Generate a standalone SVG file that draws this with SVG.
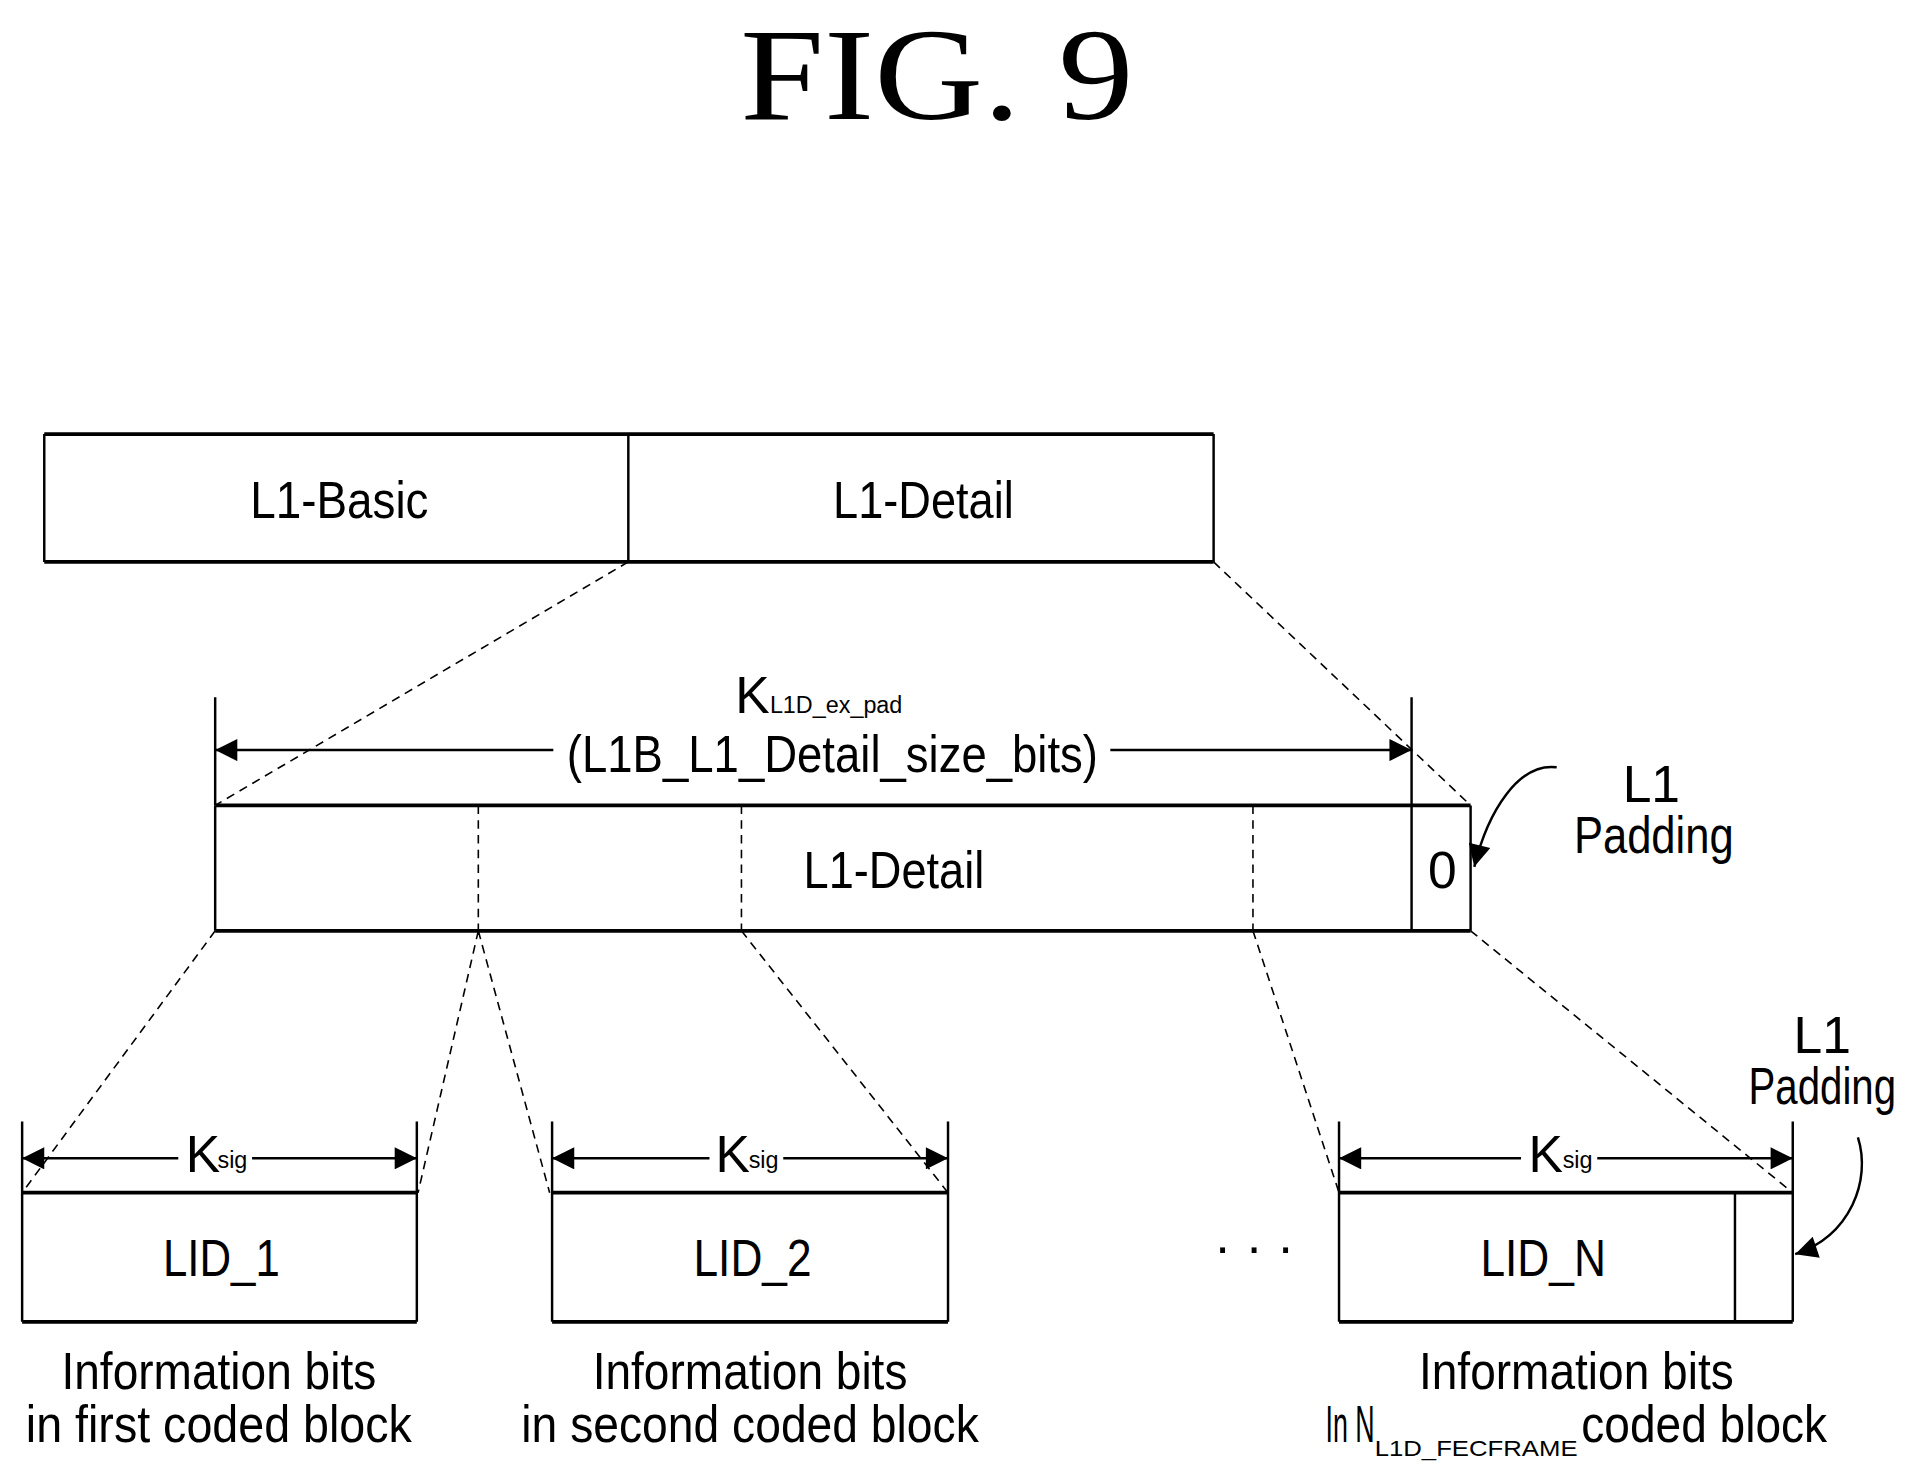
<svg xmlns="http://www.w3.org/2000/svg" width="1928" height="1482" viewBox="0 0 1928 1482">
<style>
.t{font-family:"Liberation Sans",Arial,sans-serif;font-size:42px;text-anchor:middle;fill:#000}
.s{font-size:19px}
.b{fill:none;stroke:#000;stroke-width:2}
.thick{stroke:#000;stroke-width:3}
.d{fill:none;stroke:#000;stroke-width:1.3;stroke-dasharray:7,5}
.ln{fill:none;stroke:#000;stroke-width:2}
</style>
<defs>
<marker id="ah" viewBox="0 0 10 10" refX="10" refY="5" markerWidth="30" markerHeight="18" markerUnits="userSpaceOnUse" orient="auto"><path d="M0,0L10,5L0,10z" fill="#000"/></marker>
</defs>
<rect width="1928" height="1482" fill="#fff"/>
<g transform="scale(1.2296)">
<text x="762" y="97" font-family="Liberation Serif,serif" font-size="106" text-anchor="middle" textLength="320" lengthAdjust="spacingAndGlyphs">FIG. 9</text>
<g id="top">
<path class="b" d="M36,353V457M511,353V457M987,353V457"/>
<path class="thick" d="M36,353H987M36,457H987"/>
<text class="t" x="276" y="421" textLength="145" lengthAdjust="spacingAndGlyphs">L1-Basic</text>
<text class="t" x="751" y="421" textLength="147" lengthAdjust="spacingAndGlyphs">L1-Detail</text>
</g>
<g id="mid">
<path class="b" d="M175,655V757M1196,655V757M1148,655V757"/>
<path class="thick" d="M175,655H1196M175,757H1196"/>
<path class="d" d="M389,655V757M603,655V757M1019,655V757"/>
<text class="t" x="727" y="722" textLength="147" lengthAdjust="spacingAndGlyphs">L1-Detail</text>
<text class="t" x="1173" y="722">0</text>
</g>
<g id="dim-top">
<path class="ln" d="M175,567V655M1148,567V655"/>
<text class="t" x="612" y="580">K</text><text class="t s" x="680" y="580">L1D_ex_pad</text>
<text class="t" x="677" y="628" textLength="432" lengthAdjust="spacingAndGlyphs">(L1B_L1_Detail_size_bits)</text>
</g>
<g id="pad1">
<text class="t" x="1343" y="652">L1</text>
<text class="t" x="1345" y="694" textLength="130" lengthAdjust="spacingAndGlyphs">Padding</text>
</g>
<g id="b1">
<path class="b" d="M18,912V1075M339,912V1075"/>
<path class="thick" d="M18,970H339M18,1075H339"/>
<text class="t" x="165" y="953">K</text><text class="t s" x="189" y="950">sig</text>
<text class="t" x="180" y="1038" textLength="95" lengthAdjust="spacingAndGlyphs">LID_1</text>
<text class="t" x="178" y="1130" textLength="256" lengthAdjust="spacingAndGlyphs">Information bits</text>
<text class="t" x="178" y="1173" textLength="314" lengthAdjust="spacingAndGlyphs">in first coded block</text>
</g>
<g id="b2">
<path class="b" d="M449,912V1075M771,912V1075"/>
<path class="thick" d="M449,970H771M449,1075H771"/>
<text class="t" x="596" y="953">K</text><text class="t s" x="621" y="950">sig</text>
<text class="t" x="612" y="1038" textLength="96" lengthAdjust="spacingAndGlyphs">LID_2</text>
<text class="t" x="610" y="1130" textLength="256" lengthAdjust="spacingAndGlyphs">Information bits</text>
<text class="t" x="610" y="1173" textLength="372" lengthAdjust="spacingAndGlyphs">in second coded block</text>
</g>
<text class="t" x="1020" y="1028">· · ·</text>
<g id="b3">
<path class="b" d="M1089,912V1075M1458,912V1075M1411,970V1075"/>
<path class="thick" d="M1089,970H1458M1089,1075H1458"/>
<text class="t" x="1257" y="953">K</text><text class="t s" x="1283" y="950">sig</text>
<text class="t" x="1255" y="1038" textLength="102" lengthAdjust="spacingAndGlyphs">LID_N</text>
<text class="t" x="1282" y="1130" textLength="256" lengthAdjust="spacingAndGlyphs">Information bits</text>
<text x="1078" y="1173" font-family="Liberation Sans,Arial,sans-serif" font-size="42" textLength="40" lengthAdjust="spacingAndGlyphs">In N</text>
<text x="1118" y="1184" font-family="Liberation Sans,Arial,sans-serif" font-size="18" textLength="165" lengthAdjust="spacingAndGlyphs">L1D_FECFRAME</text>
<text x="1286" y="1173" font-family="Liberation Sans,Arial,sans-serif" font-size="42" textLength="200" lengthAdjust="spacingAndGlyphs">coded block</text>
</g>
<g id="pad2">
<text class="t" x="1482" y="856">L1</text>
<text class="t" x="1482" y="898" textLength="120" lengthAdjust="spacingAndGlyphs">Padding</text>
</g>
<g id="connectors">
<path class="d" d="M511,457L175,655M987,457L1196,655M175,757L18,970M389,757L340,970M389,757L447,970M603,757L771,970M1019,757L1089,970M1196,757L1458,970"/>
<path class="ln" d="M450,610H175" marker-end="url(#ah)"/>
<path class="ln" d="M903,610H1148" marker-end="url(#ah)"/>
<path class="ln" d="M145,942H18" marker-end="url(#ah)"/><path class="ln" d="M205,942H339" marker-end="url(#ah)"/>
<path class="ln" d="M577,942H449" marker-end="url(#ah)"/><path class="ln" d="M637,942H771" marker-end="url(#ah)"/>
<path class="ln" d="M1237,942H1089" marker-end="url(#ah)"/><path class="ln" d="M1299,942H1458" marker-end="url(#ah)"/>
<path class="ln" d="M1266,624C1235,620 1210,660 1199,705" marker-end="url(#ah)"/>
<path class="ln" d="M1511,925C1522,960 1505,1005 1460,1020" marker-end="url(#ah)"/>
</g>
</g>
</svg>
